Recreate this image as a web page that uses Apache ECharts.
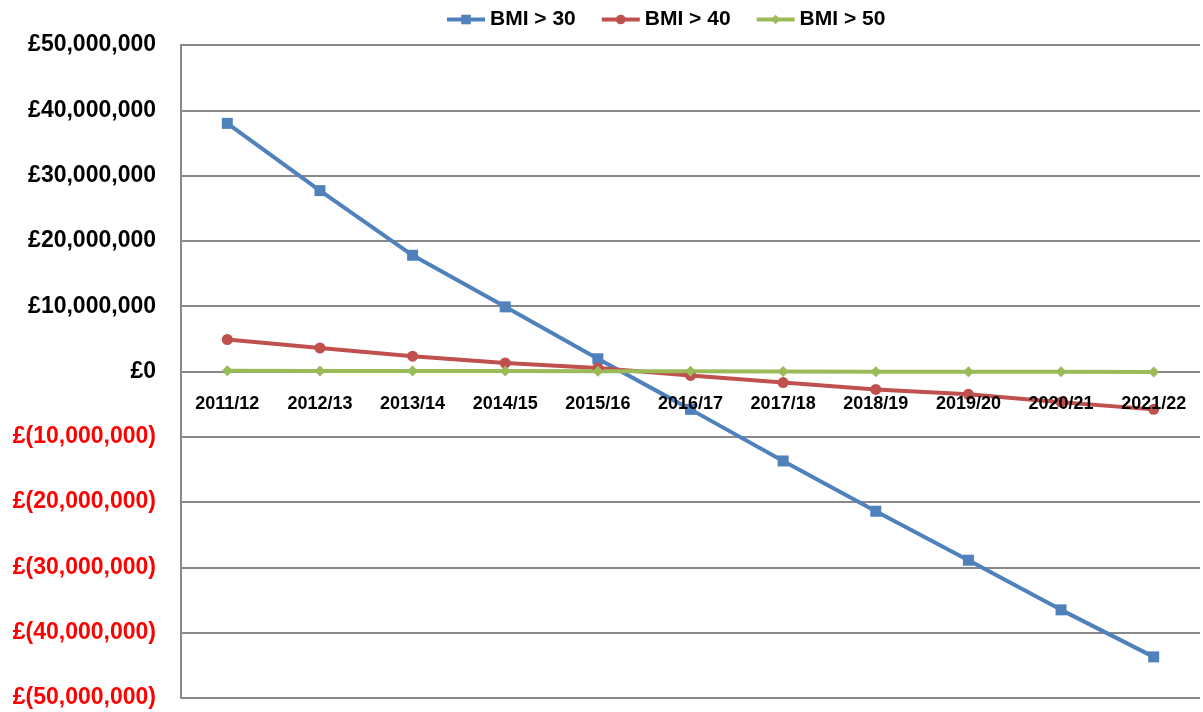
<!DOCTYPE html>
<html>
<head>
<meta charset="utf-8">
<script src="https://cdn.jsdelivr.net/npm/echarts@6/dist/echarts.min.js"></script>
<style>
html,body{margin:0;padding:0;background:#fff;}
#chart{width:1203px;height:712px;}
</style>
</head>
<body>
<div id="chart"></div>
<script>
var categories = ['2011/12','2012/13','2013/14','2014/15','2015/16','2016/17','2017/18','2018/19','2019/20','2020/21','2021/22'];
var bmi30 = [38000000, 27700000, 17800000, 9900000, 1950000, -5800000, -13700000, -21400000, -28900000, -36500000, -43700000];
var bmi40 = [4900000, 3600000, 2350000, 1300000, 550000, -600000, -1700000, -2750000, -3500000, -4700000, -5800000];
var bmi50 = [100000, 90000, 80000, 60000, 40000, 20000, 0, -20000, -40000, -50000, -60000];
var seriesNames = ['BMI > 30', 'BMI > 40', 'BMI > 50'];
var yMin = -50000000, yMax = 50000000, yStep = 10000000;

var FONT = '"Liberation Sans", Arial, sans-serif';
var GRID_TOP = 45, GRID_BOTTOM = 14, H = 712;
// distance from the plot's bottom edge up to the zero line, so the category axis sits on £0
var plotH = H - GRID_TOP - GRID_BOTTOM;
var zeroOffset = -plotH * (0 - yMin) / (yMax - yMin);

function commas(n){
  var s = String(Math.round(Math.abs(n)));
  return s.replace(/\B(?=(\d{3})+(?!\d))/g, ',');
}
var chart = echarts.init(document.getElementById('chart'), null, {renderer:'canvas'});
chart.setOption({
  animation: false,
  backgroundColor: '#ffffff',
  legend: {
    top: 4,
    left: 440,
    itemWidth: 38,
    itemHeight: 12,
    itemGap: 24,
    lineStyle: {width: 4},
    textStyle: {fontFamily: FONT, fontWeight: 'bold', fontSize: 21, color: '#000'},
    data: seriesNames
  },
  grid: {left: 181, right: 3, top: GRID_TOP, bottom: GRID_BOTTOM, containLabel: false, outerBoundsMode: 'none'},
  xAxis: {
    type: 'category',
    data: categories,
    boundaryGap: true,
    offset: zeroOffset,
    z: 5,
    axisLine: {show: false, onZero: false},
    axisTick: {show: false},
    axisLabel: {margin: 24, fontFamily: FONT, fontWeight: 'bold', fontSize: 18, color: '#000'},
    splitLine: {show: false}
  },
  yAxis: {
    type: 'value',
    min: yMin, max: yMax, interval: yStep,
    axisLine: {show: true, onZero: false, lineStyle: {color: '#888888', width: 2}},
    axisTick: {show: false},
    splitLine: {show: true, lineStyle: {color: '#888888', width: 2}},
    axisLabel: {
      margin: 25,
      formatter: function(v){
        if (v < 0) return '{neg|£(' + commas(v) + ')}';
        return '{pos|£' + commas(v) + '}';
      },
      rich: {
        neg: {fontFamily: FONT, fontWeight: 'bold', fontSize: 23, color: '#FF0000'},
        pos: {fontFamily: FONT, fontWeight: 'bold', fontSize: 23, color: '#000000'}
      }
    }
  },
  series: [
    {
      name: seriesNames[0], type: 'line', data: bmi30,
      symbol: 'rect', symbolSize: 11,
      lineStyle: {color: '#4F81BD', width: 4},
      itemStyle: {color: '#4F81BD'}
    },
    {
      name: seriesNames[1], type: 'line', data: bmi40,
      symbol: 'circle', symbolSize: 11,
      lineStyle: {color: '#C0504D', width: 4},
      itemStyle: {color: '#C0504D'}
    },
    {
      name: seriesNames[2], type: 'line', data: bmi50,
      symbol: 'diamond', symbolSize: 11,
      lineStyle: {color: '#9BBB59', width: 4},
      itemStyle: {color: '#9BBB59'}
    }
  ]
});
</script>
</body>
</html>
